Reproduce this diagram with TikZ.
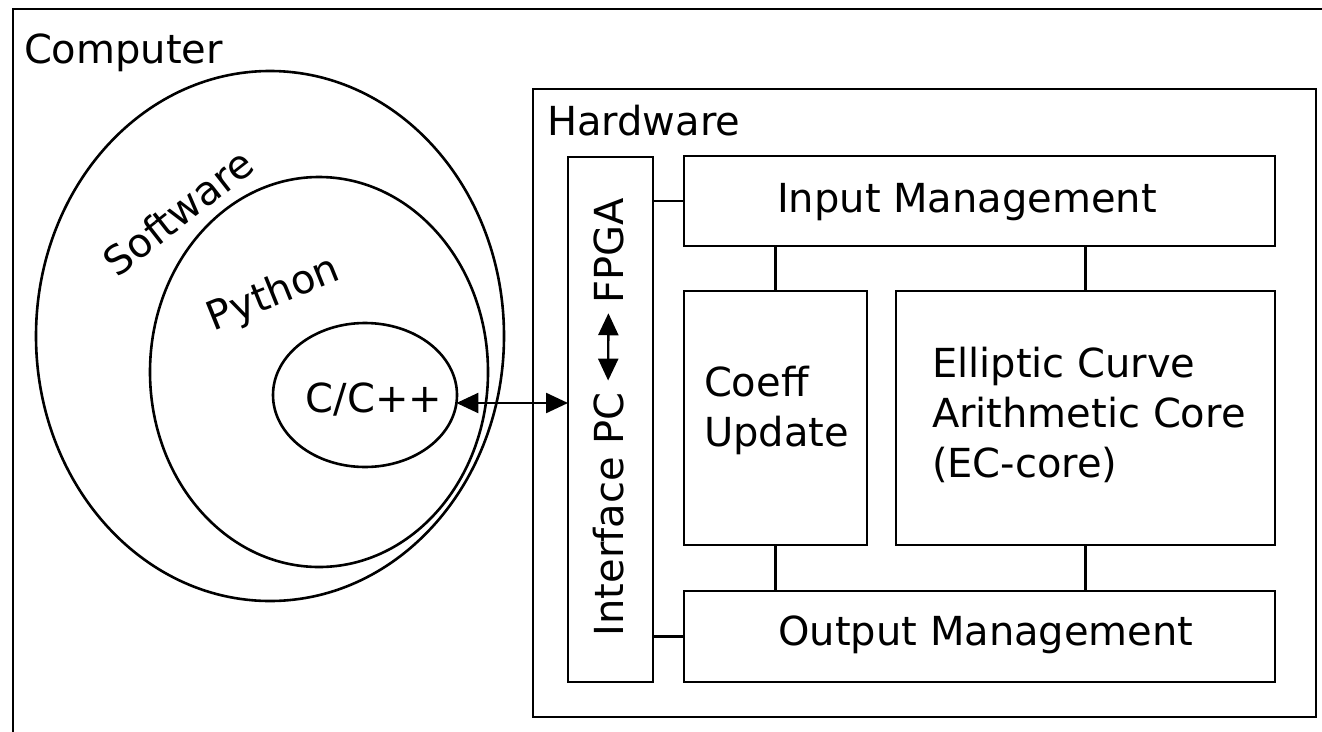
\documentclass[tikz,border=0pt]{standalone}
\usepackage{fontspec}
\setmainfont{DejaVu Sans}
\usetikzlibrary{arrows.meta,shapes.geometric}
\begin{document}
\begin{tikzpicture}[x=1pt,y=-1pt,
  line width=2.6pt,
  every node/.style={font=\fontsize{40}{50}\selectfont},
  box/.style={draw, rectangle, inner sep=0pt, outer sep=0pt, anchor=north west},
  oval/.style={draw, ellipse, inner sep=0pt, outer sep=0pt},
  txt/.style={inner sep=0pt, outer sep=0pt},
  link/.style={line width=2.6pt},
  dbl/.style={line width=2.4pt, {Triangle[length=22pt,width=20pt]}-{Triangle[length=22pt,width=20pt]}}
]
\useasboundingbox (0,0) rectangle (1322,731);
\clip (0,0) rectangle (1322,731);

% outer frame and its title
\node[box, minimum width=1400, minimum height=800] (computer) at (13,9) {};
\node[txt, anchor=base west] (complabel) at (24,63) {Computer};

% software side: nested ovals
\node[oval, minimum width=468, minimum height=530] (software) at (270,336) {};
\node[oval, minimum width=338, minimum height=390] (python) at (319,372) {};
\node[oval, minimum width=184, minimum height=144] (cpp) at (365,395) {};
\node[txt, rotate=38] (swlabel) at (178,212) {Software};
\node[txt, rotate=22] (pylabel) at (274,295) {Python};
\node[txt, anchor=base] (cpplabel) at (374,412) {C/C++};

% hardware side
\node[box, minimum width=783, minimum height=628] (hardware) at (533,89) {};
\node[txt, anchor=base west] (hwlabel) at (547,135) {Hardware};

\node[box, minimum width=85, minimum height=525] (iface) at (568,157) {};
\node[box, minimum width=591, minimum height=90] (input) at (684,156) {};
\node[box, minimum width=183, minimum height=254] (coeff) at (684,291) {};
\node[box, minimum width=379, minimum height=254] (eccore) at (896,291) {};
\node[box, minimum width=591, minimum height=91] (output) at (684,591) {};

% box texts
\node[txt, rotate=90, anchor=base] (ifpc) at (623,514.5) {Interface PC};
\node[txt, rotate=90, anchor=base] (fpga) at (623,250.5) {FPGA};
\node[txt, anchor=base] (inlabel) at (967,212) {Input Management};
\node[txt, anchor=base] (outlabel) at (986,645) {Output Management};
\node[txt, anchor=base west] (coefflabel) at (704,396)
  {\begin{tabular}[t]{@{}l@{}}Coeff\\Update\end{tabular}};
\node[txt, anchor=base west] (eclabel) at (932,377)
  {\begin{tabular}[t]{@{}l@{}}Elliptic Curve\\Arithmetic Core\\(EC-core)\end{tabular}};

% connections
\draw[dbl] (cpp.-5) -- (cpp.-5 -| iface.west);
\draw[dbl, shorten <=12pt, shorten >=10pt] (ifpc.east) -- (fpga.west);
\draw[link] (iface.east |- input.west) -- (input.west);
\draw[link] (iface.east |- output.west) -- (output.west);
\draw[link] (coeff.north) -- (coeff.north |- input.south);
\draw[link] (eccore.north) -- (eccore.north |- input.south);
\draw[link] (coeff.south) -- (coeff.south |- output.north);
\draw[link] (eccore.south) -- (eccore.south |- output.north);
\end{tikzpicture}
\end{document}
